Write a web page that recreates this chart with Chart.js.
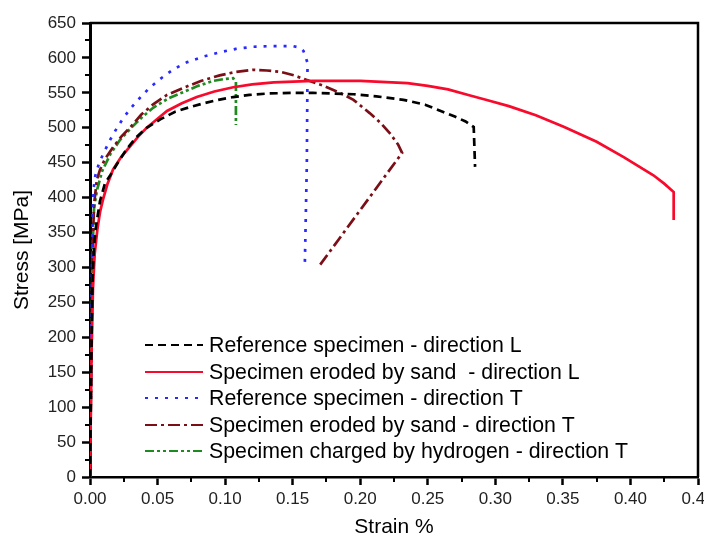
<!DOCTYPE html>
<html>
<head>
<meta charset="utf-8">
<script src="https://cdn.jsdelivr.net/npm/chart.js@4.4.1/dist/chart.umd.min.js"></script>
<style>
  html, body { margin: 0; padding: 0; background: #fff; overflow: hidden; }
  canvas { display: block; }
</style>
</head>
<body>
<canvas id="tensileChart" width="724" height="541"></canvas>
<script>
// Tensile test curves, strain in %, stress in MPa
const refLStrain = [0, 0.0012, 0.002, 0.003, 0.0045, 0.0074, 0.011, 0.015, 0.020, 0.027, 0.034, 0.042, 0.052, 0.063, 0.073, 0.084, 0.095, 0.106, 0.118, 0.131, 0.150, 0.165, 0.180, 0.195, 0.212, 0.232, 0.248, 0.261, 0.270, 0.278, 0.284, 0.285];
const refLStress = [0, 200, 290, 330, 360, 395, 420, 432, 448, 469, 486, 500, 512, 523, 529, 535, 540, 544, 547, 549, 550, 550, 549, 548, 545, 540, 533, 523, 516, 509, 501, 444];

const sandLStrain = [0, 0.0012, 0.0022, 0.0035, 0.0055, 0.0075, 0.0096, 0.013, 0.017, 0.023, 0.030, 0.036, 0.042, 0.050, 0.057, 0.068, 0.079, 0.092, 0.106, 0.120, 0.136, 0.165, 0.200, 0.235, 0.250, 0.265, 0.280, 0.295, 0.310, 0.330, 0.351, 0.375, 0.395, 0.417, 0.425, 0.432, 0.432];
const sandLStress = [0, 180, 270, 320, 355, 380, 397, 420, 440, 458, 474, 488, 500, 513, 524, 535, 544, 552, 558, 562, 565, 567, 567, 564, 560, 555, 547, 539, 531, 518, 501, 480, 458, 432, 420, 408, 368];

const refTStrain = [0, 0.0012, 0.002, 0.0028, 0.004, 0.0065, 0.0096, 0.015, 0.020, 0.025, 0.031, 0.037, 0.044, 0.052, 0.062, 0.072, 0.084, 0.096, 0.108, 0.121, 0.135, 0.150, 0.155, 0.158, 0.161, 0.1605, 0.159];
const refTStress = [0, 250, 380, 415, 432, 448, 462, 483, 500, 515, 530, 543, 557, 570, 584, 594, 602, 608, 613, 616, 617, 617, 615, 610, 593, 450, 304];

const sandTStrain = [0, 0.0012, 0.002, 0.003, 0.005, 0.0074, 0.011, 0.017, 0.023, 0.030, 0.038, 0.047, 0.057, 0.069, 0.082, 0.096, 0.108, 0.121, 0.131, 0.141, 0.151, 0.161, 0.173, 0.185, 0.195, 0.207, 0.215, 0.222, 0.228, 0.231, 0.170];
const sandTStress = [0, 220, 330, 390, 425, 440, 455, 472, 487, 501, 519, 534, 547, 557, 567, 575, 580, 583, 582, 580, 575, 568, 560, 550, 540, 521, 507, 492, 476, 464, 303];

const hydroTStrain = [0, 0.0012, 0.002, 0.003, 0.0052, 0.009, 0.015, 0.022, 0.030, 0.039, 0.047, 0.058, 0.069, 0.080, 0.091, 0.100, 0.106, 0.108, 0.108];
const hydroTStress = [0, 220, 330, 385, 411, 438, 462, 482, 499, 516, 529, 542, 551, 560, 567, 570, 571, 566, 504];

const seriesLabels = [
  'Reference specimen - direction L',
  'Specimen eroded by sand  - direction L',
  'Reference specimen - direction T',
  'Specimen eroded by sand - direction T',
  'Specimen charged by hydrogen - direction T'
];

const xTicksStep = 0.05;
const yTicksStep = 50;

const FONT = "'Liberation Sans', Arial, sans-serif";

const toPoints = (xs, ys) => xs.map((x, i) => ({ x: x, y: ys[i] }));

const makeDataset = (label, xs, ys, color, dash) => ({
  label: label,
  data: toPoints(xs, ys),
  borderColor: color,
  borderWidth: 2.7,
  borderDash: dash,
  pointRadius: 0,
  tension: 0,
  fill: false
});

// box lines on top and right, plus the small in-between ticks
const frameTicks = {
  id: 'frameTicks',
  afterDraw(chart) {
    const { ctx, chartArea: a, scales } = chart;
    ctx.save();
    ctx.strokeStyle = '#000';
    ctx.setLineDash([]);
    ctx.lineWidth = 2.5;
    ctx.beginPath();
    ctx.moveTo(a.left, a.top);
    ctx.lineTo(a.right, a.top);
    ctx.lineTo(a.right, a.bottom);
    ctx.stroke();

    ctx.lineWidth = 2;
    ctx.beginPath();
    for (let v = xTicksStep / 2; v < scales.x.max; v += xTicksStep) {
      const px = Math.round(scales.x.getPixelForValue(v));
      ctx.moveTo(px, a.bottom);
      ctx.lineTo(px, a.bottom + 5);
    }
    for (let v = yTicksStep / 2; v < scales.y.max; v += yTicksStep) {
      const py = Math.round(scales.y.getPixelForValue(v));
      ctx.moveTo(a.left, py);
      ctx.lineTo(a.left - 5, py);
    }
    ctx.stroke();
    ctx.restore();
  }
};

// legend drawn inside the plot, lower left
const insideLegend = {
  id: 'insideLegend',
  afterDatasetsDraw(chart) {
    const { ctx, chartArea: a } = chart;
    const x0 = a.left + 55;
    const x1 = x0 + 58;
    const y0 = a.top + 322;
    ctx.save();
    ctx.font = '21.3px ' + FONT;
    ctx.textBaseline = 'middle';
    ctx.textAlign = 'left';
    chart.data.datasets.forEach((ds, i) => {
      const y = Math.round(y0 + i * 26.5);
      ctx.strokeStyle = ds.borderColor;
      ctx.lineWidth = 2;
      ctx.setLineDash(ds.borderDash || []);
      ctx.beginPath();
      ctx.moveTo(x0, y);
      ctx.lineTo(x1, y);
      ctx.stroke();
      ctx.fillStyle = '#000';
      ctx.fillText(ds.label, x1 + 6, y + 1);
    });
    ctx.restore();
  }
};

new Chart(document.getElementById('tensileChart'), {
  type: 'line',
  data: {
    datasets: [
      makeDataset(seriesLabels[0], refLStrain, refLStress, '#000000', [8, 5]),
      makeDataset(seriesLabels[1], sandLStrain, sandLStress, '#f80a2c', []),
      makeDataset(seriesLabels[2], refTStrain, refTStress, '#2a2aff', [3, 7]),
      makeDataset(seriesLabels[3], sandTStrain, sandTStress, '#7a0f17', [12, 4, 3, 4]),
      makeDataset(seriesLabels[4], hydroTStrain, hydroTStress, '#1f8a1f', [9, 3, 3, 3, 3, 3])
    ]
  },
  options: {
    responsive: false,
    devicePixelRatio: 1,
    animation: false,
    layout: { padding: { left: 0, right: 26, top: 23, bottom: 0 } },
    plugins: {
      legend: { display: false },
      tooltip: { enabled: false }
    },
    scales: {
      x: {
        type: 'linear',
        min: 0,
        max: 0.45,
        afterFit: s => { s.height = 64; s.paddingLeft = 0; s.paddingRight = 0; },
        ticks: {
          stepSize: xTicksStep,
          autoSkip: false,
          maxRotation: 0,
          padding: 4,
          color: '#222',
          font: { family: FONT, size: 17 },
          callback: v => v.toFixed(2)
        },
        grid: { drawOnChartArea: false, drawTicks: true, tickLength: 8, tickWidth: 2.5, tickColor: '#000' },
        border: { display: true, color: '#000', width: 2.5 },
        title: {
          display: true,
          text: 'Strain %',
          color: '#000',
          font: { family: FONT, size: 21 },
          padding: { top: 0, bottom: 1 }
        }
      },
      y: {
        min: 0,
        max: 650,
        afterFit: s => { s.width = 90; s.paddingTop = 0; s.paddingBottom = 0; },
        ticks: {
          stepSize: yTicksStep,
          padding: 6,
          color: '#222',
          font: { family: FONT, size: 17 }
        },
        grid: { drawOnChartArea: false, drawTicks: true, tickLength: 8, tickWidth: 2.5, tickColor: '#000' },
        border: { display: true, color: '#000', width: 3 },
        title: {
          display: true,
          text: 'Stress [MPa]',
          color: '#000',
          font: { family: FONT, size: 21 },
          padding: { top: 10, bottom: 0 }
        }
      }
    }
  },
  plugins: [frameTicks, insideLegend]
});
</script>
</body>
</html>
